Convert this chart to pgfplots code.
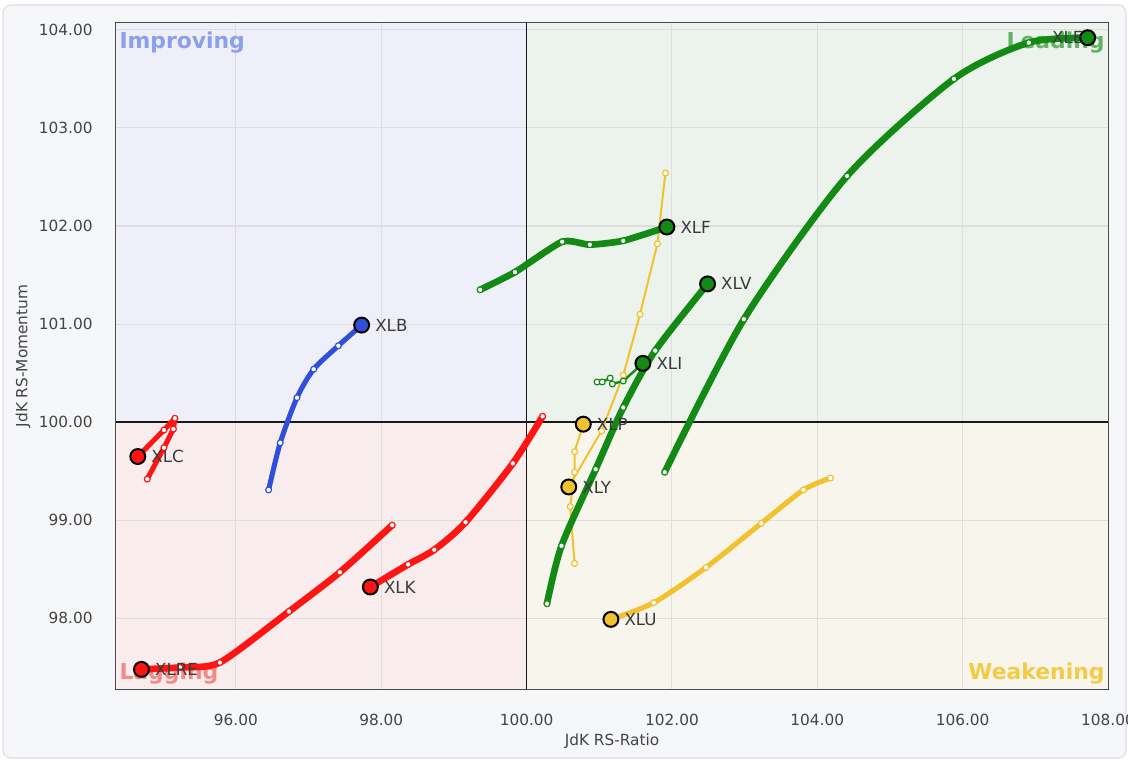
\documentclass[border=0pt]{standalone}
\usepackage{pgfplots}
\pgfplotsset{compat=1.18}
\usepackage{fontspec}
\setmainfont{DejaVu Sans}
\definecolor{rrggreen}{HTML}{138A13}
\definecolor{rrgred}{HTML}{FF1414}
\definecolor{rrgblue}{HTML}{2F4FDB}
\definecolor{rrgyellow}{HTML}{F2C12E}
\definecolor{qimp}{HTML}{EEEFF8}
\definecolor{qlead}{HTML}{ECF3EC}
\definecolor{qlag}{HTML}{F9ECEC}
\definecolor{qweak}{HTML}{F8F5EC}
\definecolor{timp}{HTML}{8C9FEA}
\definecolor{tlead}{HTML}{62B262}
\definecolor{tlag}{HTML}{F28A8A}
\definecolor{tweak}{HTML}{F3CB45}
\definecolor{cardbg}{HTML}{F6F7F9}
\definecolor{cardline}{HTML}{DDDEE2}
\definecolor{lblgray}{HTML}{3A3A3A}
\definecolor{tickgray}{HTML}{444444}
\definecolor{gridcol}{HTML}{DEDEDE}
\newcommand\tickfont{\fontsize{11.5}{13}\selectfont}
\newcommand\lblfont{\fontsize{12.5}{14}\selectfont}
\newcommand\quadfont{\fontsize{16.4}{18}\selectfont\bfseries}
\pgfplotsset{
  trail/.style={color=#1, line cap=round, line join=round, mark=*, mark size=2.2pt,
    mark options={solid, fill=white, draw=#1, line width=0.9pt}},
  head/.style={only marks, mark=*, mark size=5.6pt,
    mark options={fill=#1, draw=black, line width=1.5pt},
    nodes near coords, point meta=explicit symbolic,
    nodes near coords style={anchor=west, xshift=8.5pt, font=\lblfont, text=lblgray, inner sep=1pt}},
  gl/.style={draw=gridcol, line width=0.8pt, forget plot},
}
\begin{document}
\begin{tikzpicture}
\fill[white] (-87pt,-53.25pt) rectangle (759pt,516.75pt);
\filldraw[fill=cardbg, draw=cardline, line width=0.8pt, rounded corners=6pt] (-84.75pt,-51.75pt) rectangle (757.5pt,513pt);
\begin{axis}[
  at={(0,0)}, anchor=south west,
  scale only axis, width=744pt, height=499.5pt,
  xmin=94.35, xmax=108.0, ymin=97.28, ymax=104.07,
  xtick={96,98,100,102,104,106,108}, ytick={98,99,100,101,102,103,104},
  xticklabel={\pgfmathprintnumber[fixed,fixed zerofill,precision=2,assume math mode=true]{\tick}},
  yticklabel={\pgfmathprintnumber[fixed,fixed zerofill,precision=2,assume math mode=true]{\tick}},
  xticklabel style={font=\tickfont, text=tickgray, anchor=center, yshift=-23pt},
  yticklabel style={font=\tickfont, text=tickgray, anchor=east, xshift=-14pt},
  tick style={draw=none},
  axis line style={draw=black!80, line width=1.2pt},
  xlabel={JdK RS-Ratio}, ylabel={JdK RS-Momentum},
  every axis x label/.style={at={(axis description cs:0.5,0)}, anchor=center, yshift=-39pt, font=\tickfont, text=tickgray},
  every axis y label/.style={at={(axis description cs:0,0.5)}, anchor=center, rotate=90, yshift=69.75pt, font=\tickfont, text=tickgray},
]
% quadrant backgrounds
\addplot[fill=qimp, draw=none, forget plot] coordinates {(94.35,100) (100,100) (100,104.07) (94.35,104.07) (94.35,100)};
\addplot[fill=qlead, draw=none, forget plot] coordinates {(100,100) (108,100) (108,104.07) (100,104.07) (100,100)};
\addplot[fill=qlag, draw=none, forget plot] coordinates {(94.35,97.28) (100,97.28) (100,100) (94.35,100) (94.35,97.28)};
\addplot[fill=qweak, draw=none, forget plot] coordinates {(100,97.28) (108,97.28) (108,100) (100,100) (100,97.28)};
% grid
\addplot[gl] coordinates {(96,97.28) (96,104.07)};
\addplot[gl] coordinates {(98,97.28) (98,104.07)};
\addplot[gl] coordinates {(102,97.28) (102,104.07)};
\addplot[gl] coordinates {(104,97.28) (104,104.07)};
\addplot[gl] coordinates {(106,97.28) (106,104.07)};
\addplot[gl] coordinates {(94.35,98) (108,98)};
\addplot[gl] coordinates {(94.35,99) (108,99)};
\addplot[gl] coordinates {(94.35,101) (108,101)};
\addplot[gl] coordinates {(94.35,102) (108,102)};
\addplot[gl] coordinates {(94.35,103) (108,103)};
\addplot[gl] coordinates {(94.35,104) (108,104)};
% dividers
\addplot[black!90, line width=1.1pt] coordinates {(100,97.28) (100,104.07)};
\addplot[black!90, line width=1.1pt] coordinates {(94.35,100) (108,100)};
% quadrant labels
\node[anchor=base west, inner sep=0pt, font=\quadfont, text=timp] at (axis cs:94.395,103.81) {Improving};
\node[anchor=base east, inner sep=0pt, font=\quadfont, text=tlead] at (axis cs:107.955,103.81) {Leading};
\node[anchor=base west, inner sep=0pt, font=\quadfont, text=tlag] at (axis cs:94.395,97.372) {Lagging};
\node[anchor=base east, inner sep=0pt, font=\quadfont, text=tweak] at (axis cs:107.955,97.372) {Weakening};
% trails
\addplot[trail=rrgyellow, line width=1.5pt] coordinates {(101.91,102.54) (101.80,101.82) (101.56,101.10) (101.33,100.48) (101.03,99.91) (100.58,99.34)};
\addplot[trail=rrgyellow, line width=1.5pt] coordinates {(100.66,98.56) (100.60,99.14) (100.66,99.49) (100.66,99.70) (100.78,99.98)};
\addplot[trail=rrgyellow, line width=3.8pt, smooth, tension=0.45] coordinates {(104.18,99.43) (103.81,99.31) (103.23,98.97) (102.47,98.52) (101.75,98.16) (101.16,97.99)};
\addplot[trail=rrggreen, line width=1.8pt] coordinates {(100.97,100.41) (101.04,100.41) (101.15,100.45) (101.18,100.39) (101.33,100.42) (101.60,100.60)};
\addplot[trail=rrggreen, line width=5pt, smooth, tension=0.45] coordinates {(100.28,98.15) (100.48,98.74) (100.95,99.52) (101.33,100.15) (101.77,100.73) (102.49,101.41)};
\addplot[trail=rrggreen, line width=5pt, smooth, tension=0.35] coordinates {(99.36,101.35) (99.84,101.53) (100.49,101.84) (100.87,101.81) (101.33,101.85) (101.93,101.99)};
\addplot[trail=rrggreen, line width=5pt, smooth, tension=0.45] coordinates {(101.90,99.49) (102.99,101.05) (104.41,102.51) (105.88,103.50) (106.91,103.87) (107.72,103.92)};
\addplot[trail=rrgblue, line width=3.8pt, smooth, tension=0.45] coordinates {(96.45,99.31) (96.61,99.79) (96.84,100.25) (97.07,100.54) (97.41,100.78) (97.73,100.99)};
\addplot[trail=rrgred, line width=3.8pt] coordinates {(94.78,99.42) (95.01,99.74) (95.14,99.93) (95.16,100.04) (95.01,99.92) (94.65,99.65)};
\addplot[trail=rrgred, line width=5pt, smooth, tension=0.45] coordinates {(100.22,100.06) (99.81,99.58) (99.16,98.98) (98.73,98.70) (98.37,98.55) (97.85,98.32)};
\addplot[trail=rrgred, line width=5pt, smooth, tension=0.4] coordinates {(98.15,98.95) (97.43,98.47) (96.73,98.07) (95.78,97.55) (95.23,97.50) (94.70,97.48)};
% heads
\addplot[head=rrgyellow] coordinates {(100.58,99.34) [XLY] (100.78,99.98) [XLP] (101.16,97.99) [XLU]};
\addplot[head=rrggreen] coordinates {(101.60,100.60) [XLI] (102.49,101.41) [XLV] (101.93,101.99) [XLF]};
\addplot[head=rrggreen, nodes near coords style={anchor=east, xshift=-10pt}] coordinates {(107.72,103.92) [XLE]};
\addplot[head=rrgblue] coordinates {(97.73,100.99) [XLB]};
\addplot[head=rrgred] coordinates {(94.65,99.65) [XLC] (97.85,98.32) [XLK] (94.70,97.48) [XLRE]};
\end{axis}
\pgfresetboundingbox
\path[use as bounding box] (-87pt,-53.25pt) rectangle (759pt,516.75pt);
\end{tikzpicture}
\end{document}
